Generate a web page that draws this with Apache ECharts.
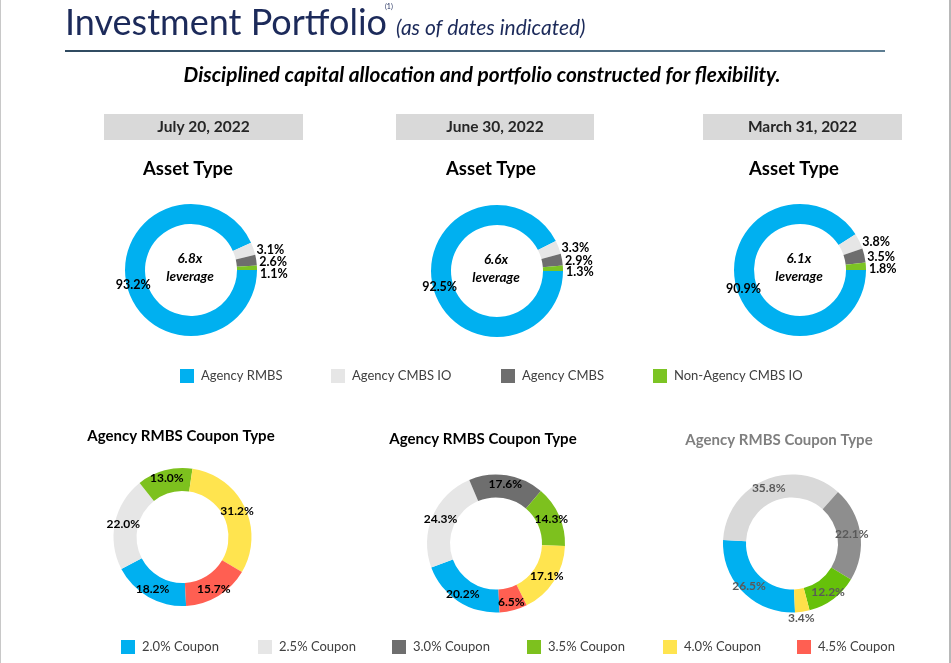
<!DOCTYPE html>
<html>
<head>
<meta charset="utf-8">
<script src="https://cdn.jsdelivr.net/npm/echarts@6/dist/echarts.min.js"></script>
<style>
  html, body { margin:0; padding:0; background:#ffffff; }
  #chart { width:951px; height:663px; }
</style>
</head>
<body>
<div id="chart"></div>
<script>
// ---- data ----
const dates = ['July 20, 2022', 'June 30, 2022', 'March 31, 2022'];
const leverage = ['6.8x', '6.6x', '6.1x'];
const assetNames = ['Agency RMBS', 'Agency CMBS IO', 'Agency CMBS', 'Non-Agency CMBS IO'];
const assetJul = [93.2, 3.1, 2.6, 1.1];
const assetJun = [92.5, 3.3, 2.9, 1.3];
const assetMar = [90.9, 3.8, 3.5, 1.8];
const couponNames = ['2.0% Coupon', '2.5% Coupon', '3.0% Coupon', '3.5% Coupon', '4.0% Coupon', '4.5% Coupon'];
const couponJul = [18.2, 22.0, null, 13.0, 31.2, 15.7];
const couponJun = [20.2, 24.3, 17.6, 14.3, 17.1, 6.5];
const couponMar = [26.5, 35.8, 22.1, 12.2, 3.4, null];

// ---- styles ----
const FONT = 'Lato, "Open Sans", sans-serif';
const assetColors = ['#00b0f0', '#e6e6e6', '#6e6e6e', '#7cc424'];
const couponColors = ['#00b0f0', '#e6e6e6', '#6e6e6e', '#7dc11e', '#ffe44f', '#ff5f52'];
const couponColorsMar = ['#00b0f0', '#d9d9d9', '#8e8e8e', '#66c10a', '#ffe04a', '#ff5f52'];

const chart = echarts.init(document.getElementById('chart'), null, { renderer: 'canvas' });

function fmt(p) { return p.value.toFixed(1) + '%'; }

function assetSeries(values, center, labelDy) {
  return {
    type: 'pie', center: center, radius: [46, 66], startAngle: 0, clockwise: true,
    silent: true, avoidLabelOverlap: false,
    data: assetNames.map((n, i) => ({
      name: n, value: values[i], itemStyle: { color: assetColors[i] },
      label: { position: i === 0 ? 'inside' : 'outside' }
    })),
    label: { formatter: fmt, fontFamily: FONT, fontWeight: 'bold', fontSize: 12.5, color: '#000',
             lineHeight: 10, distanceToLabelLine: 3 },
    labelLine: { show: false, length: 0, length2: 0 },
    labelLayout: function (p) { return { dy: labelDy[p.dataIndex] }; },
    emphasis: { disabled: true }
  };
}

function couponSeries(values, center, startAngle, colors, labelColor, outsideIdx) {
  const data = [];
  couponNames.forEach((n, i) => {
    if (values[i] == null) return;
    data.push({ name: n, value: values[i], itemStyle: { color: colors[i] },
      label: { position: i === outsideIdx ? 'outside' : 'inside' } });
  });
  const s = {
    type: 'pie', center: center, radius: [46, 69], startAngle: startAngle, clockwise: true,
    silent: true, avoidLabelOverlap: false,
    data: data,
    label: { formatter: fmt, fontFamily: FONT, fontWeight: 'bold', fontSize: 12, color: labelColor,
             distanceToLabelLine: 3 },
    labelLine: { show: false, length: 0, length2: 0 },
    emphasis: { disabled: true }
  };
  if (outsideIdx != null) {
    const di = data.findIndex(d => d.name === couponNames[outsideIdx]);
    s.labelLayout = function (p) {
      return p.dataIndex === di ? { align: 'center', verticalAlign: 'top', dx: -4 } : {};
    };
  }
  return s;
}

function legendItem(name, left, top, size) {
  return {
    data: [name], left: left, top: top, padding: 0, icon: 'rect',
    itemWidth: size, itemHeight: size, selectedMode: false,
    textStyle: { fontFamily: FONT, fontSize: 13, color: '#404040', padding: [0, 0, 0, 2] }
  };
}

const headerBoxes = [[104, 199], [396, 198], [703, 199]];
const headerCenters = [203.5, 495, 802.5];
const assetTitleX = [188, 491, 794];
const assetCenters = [[191, 270], [497, 271], [800, 270]];
const couponTitle = [[181, 436, '#000'], [483, 439, '#000'], [779, 440, '#7f7f7f']];

const graphics = [
  { type: 'rect', shape: { x: 0, y: 0, width: 1, height: 663 }, style: { fill: '#c8c8c8' }, silent: true },
  { type: 'rect', shape: { x: 949, y: 0, width: 2, height: 663 }, style: { fill: '#b8b8b8' }, silent: true },
  { type: 'text', x: 65, y: 23, style: { text: 'Investment Portfolio', font: 'normal 36px ' + FONT,
      fill: '#1c2a5a', textAlign: 'left', textVerticalAlign: 'middle' } },
  { type: 'text', x: 385, y: 7, style: { text: '(1)', font: 'normal 7px ' + FONT, fill: '#1c2a5a',
      textAlign: 'left', textVerticalAlign: 'middle' } },
  { type: 'text', x: 396, y: 28, style: { text: '(as of dates indicated)', font: 'italic 21px ' + FONT,
      fill: '#1c2a5a', textAlign: 'left', textVerticalAlign: 'middle' } },
  { type: 'line', shape: { x1: 65, y1: 51, x2: 885, y2: 51 },
    style: { lineWidth: 2, stroke: new echarts.graphic.LinearGradient(0, 0, 1, 0,
      [{ offset: 0, color: '#2f4a60' }, { offset: 1, color: '#5d7d92' }]) } },
  { type: 'text', x: 482, y: 75, style: { text: 'Disciplined capital allocation and portfolio constructed for flexibility.',
      font: 'italic bold 20.8px ' + FONT, fill: '#000', textAlign: 'center', textVerticalAlign: 'middle' } }
];
dates.forEach((d, i) => {
  graphics.push({ type: 'rect', shape: { x: headerBoxes[i][0], y: 114, width: headerBoxes[i][1], height: 26 },
    style: { fill: '#d9d9d9' } });
  graphics.push({ type: 'text', x: headerCenters[i], y: 127, style: { text: d, font: 'bold 15.5px ' + FONT,
    fill: '#262626', textAlign: 'center', textVerticalAlign: 'middle' } });
  graphics.push({ type: 'text', x: assetTitleX[i], y: 169, style: { text: 'Asset Type', font: 'bold 18.5px ' + FONT,
    fill: '#000', textAlign: 'center', textVerticalAlign: 'middle' } });
  graphics.push({ type: 'text', x: assetCenters[i][0] - 1, y: assetCenters[i][1] - 11, style: { text: leverage[i],
    font: 'italic bold 13.5px ' + FONT, fill: '#000', textAlign: 'center', textVerticalAlign: 'middle' } });
  graphics.push({ type: 'text', x: assetCenters[i][0] - 1, y: assetCenters[i][1] + 7, style: { text: 'leverage',
    font: 'italic bold 13.5px ' + FONT, fill: '#000', textAlign: 'center', textVerticalAlign: 'middle' } });
  graphics.push({ type: 'text', x: couponTitle[i][0], y: couponTitle[i][1], style: { text: 'Agency RMBS Coupon Type',
    font: 'bold 15px ' + FONT, fill: couponTitle[i][2], textAlign: 'center', textVerticalAlign: 'middle' } });
});

const row1X = [180, 331, 501, 653];
const row2X = [121, 258, 392, 527, 663, 797];
const legends = [];
assetNames.forEach((n, i) => legends.push(legendItem(n, row1X[i], 369, 14)));
couponNames.forEach((n, i) => legends.push(legendItem(n, row2X[i], 640, 14)));

chart.setOption({
  backgroundColor: '#ffffff',
  animation: false,
  legend: legends,
  graphic: graphics,
  series: [
    assetSeries(assetJul, assetCenters[0], [2, 1, 1.5, 6]),
    assetSeries(assetJun, assetCenters[1], [2, 0.5, 1.5, 3.5]),
    assetSeries(assetMar, assetCenters[2], [2, 0.5, 1.5, 3]),
    couponSeries(couponJul, [182.5, 537], -87, couponColors, '#000', null),
    couponSeries(couponJun, [496, 543.5], -87, couponColors, '#000', null),
    couponSeries(couponMar, [792, 543.5], -87.5, couponColorsMar, '#595959', 4)
  ]
});
</script>
</body>
</html>
